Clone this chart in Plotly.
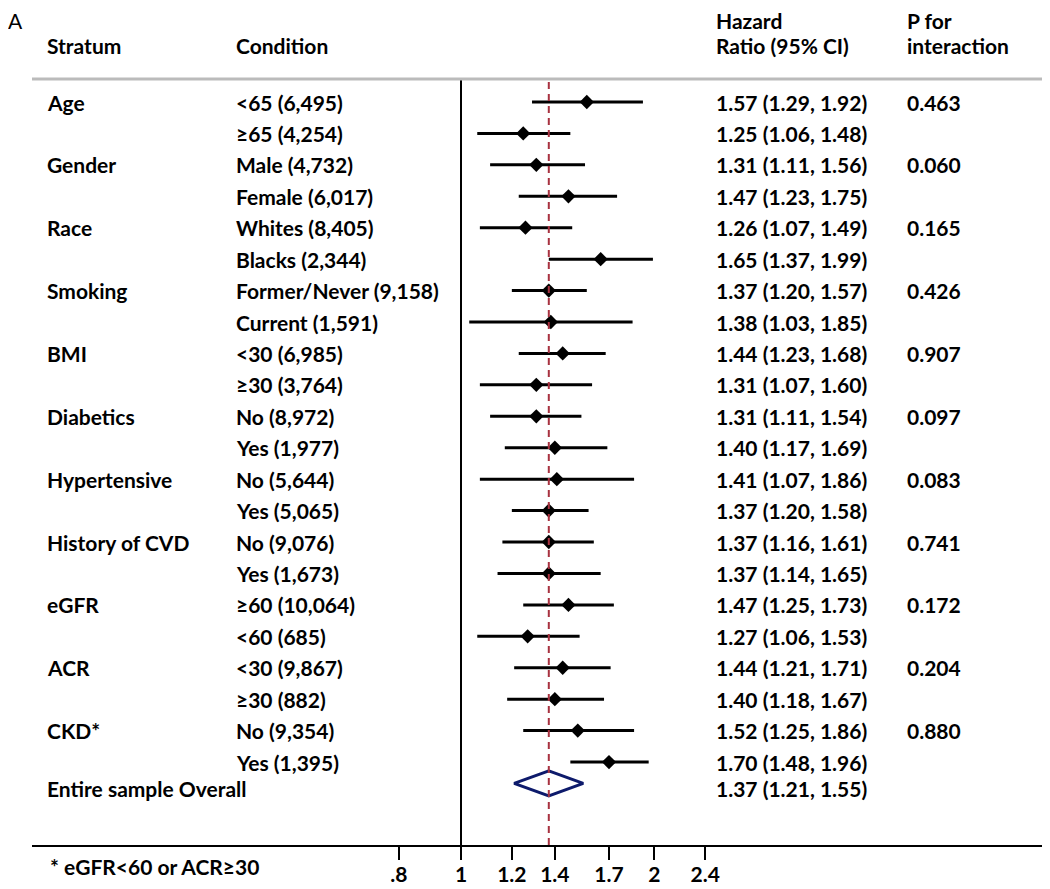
import math
import plotly.graph_objects as go

# ---------------- data ----------------
strata = ["Age", "", "Gender", "", "Race", "", "Smoking", "", "BMI", "", "Diabetics", "",
          "Hypertensive", "", "History of CVD", "", "eGFR", "", "ACR", "", "CKD*", ""]
conditions = ["<65 (6,495)", "≥65 (4,254)", "Male (4,732)", "Female (6,017)",
              "Whites (8,405)", "Blacks (2,344)", "Former/Never (9,158)", "Current (1,591)",
              "<30 (6,985)", "≥30 (3,764)", "No (8,972)", "Yes (1,977)",
              "No (5,644)", "Yes (5,065)", "No (9,076)", "Yes (1,673)",
              "≥60 (10,064)", "<60 (685)", "<30 (9,867)", "≥30 (882)",
              "No (9,354)", "Yes (1,395)"]
hr = [1.57, 1.25, 1.31, 1.47, 1.26, 1.65, 1.37, 1.38, 1.44, 1.31, 1.31, 1.40,
      1.41, 1.37, 1.37, 1.37, 1.47, 1.27, 1.44, 1.40, 1.52, 1.70]
lo = [1.29, 1.06, 1.11, 1.23, 1.07, 1.37, 1.20, 1.03, 1.23, 1.07, 1.11, 1.17,
      1.07, 1.20, 1.16, 1.14, 1.25, 1.06, 1.21, 1.18, 1.25, 1.48]
hi = [1.92, 1.48, 1.56, 1.75, 1.49, 1.99, 1.57, 1.85, 1.68, 1.60, 1.54, 1.69,
      1.86, 1.58, 1.61, 1.65, 1.73, 1.53, 1.71, 1.67, 1.86, 1.96]
p_int = ["0.463", "", "0.060", "", "0.165", "", "0.426", "", "0.907", "", "0.097", "",
         "0.083", "", "0.741", "", "0.172", "", "0.204", "", "0.880", ""]
overall_label = "Entire sample Overall"
overall = [1.37, 1.21, 1.55]   # estimate, lower, upper
tick_vals = [0.8, 1, 1.2, 1.4, 1.7, 2, 2.4]
tick_text = [".8", "1", "1.2", "1.4", "1.7", "2", "2.4"]

# ---------------- layout helpers ----------------
OFF = 8                      # page body margin
W, H = 1050 - OFF, 889 - OFF
# page-pixel geometry of the plot area
PL, PR, PT, PB = 32, 1050, 79, 845
L, T = PL - OFF, PT - OFF
R = W - (PR - OFF)
B = H - (PB - OFF)
FONT = "Lato"
FS = 21
PAD = 2

def px_x(p):
    return (p - PL - PAD) / (PR - PL)

def px_y(p):
    return 1 - (p - PT) / (PB - PT)

# x mapping in page pixels: 461 + 278.9*ln(v)
k = 278.9
xr = [(PL - 461) / k / math.log(10), (PR - 461) / k / math.log(10)]
n = len(hr)
row_pitch = 31.43
y0px = 102
yr = [(PB - y0px) / row_pitch, (PT - y0px) / row_pitch]
y_over_mark = 21.68
y_over_text = 21.83

fig = go.Figure()

# CI lines
cx, cy = [], []
for i in range(n):
    cx += [lo[i], hi[i], None]
    cy += [i, i, None]
fig.add_trace(go.Scatter(x=cx, y=cy, mode="lines", line=dict(color="black", width=3),
                         hoverinfo="skip", showlegend=False))
fig.add_trace(go.Scatter(x=hr, y=list(range(n)), mode="markers",
                         marker=dict(symbol="diamond", size=11, color="black"),
                         showlegend=False))
# overall diamond
dh = 0.40
fig.add_trace(go.Scatter(x=[overall[0], overall[1], overall[0], overall[2], overall[0]],
                         y=[y_over_mark - dh, y_over_mark, y_over_mark + dh, y_over_mark,
                            y_over_mark - dh],
                         mode="lines", line=dict(color="#0d1a6b", width=3),
                         showlegend=False))

# reference lines
fig.add_shape(type="line", xref="x", yref="paper", x0=1, x1=1, y0=0, y1=1,
              line=dict(color="black", width=2))
fig.add_shape(type="line", xref="x", yref="paper", x0=overall[0], x1=overall[0], y0=0, y1=1,
              line=dict(color="#a83240", width=2, dash="7px,5px"))
# header separator
fig.add_shape(type="line", xref="paper", yref="paper", x0=0, x1=1, y0=1, y1=1,
              line=dict(color="#bbbbbb", width=3))

ann = []
def text(xp, yv, s, yref="y", size=FS, bold=True):
    ann.append(dict(x=px_x(xp), xref="paper", y=yv, yref=yref,
                    text=(f"<b>{s}</b>" if bold else s),
                    showarrow=False, xanchor="left", yanchor="middle",
                    font=dict(family=FONT, size=size, color="black")))

X_STR, X_COND, X_HR, X_P = 47, 236, 716, 907

# headers
text(OFF, px_y(21), "A", yref="paper", bold=False)
text(X_STR, px_y(46), "Stratum", yref="paper")
text(X_COND, px_y(46), "Condition", yref="paper")
text(X_HR, px_y(21), "Hazard", yref="paper")
text(X_HR, px_y(46), "Ratio (95% CI)", yref="paper")
text(X_P, px_y(21), "P for", yref="paper")
text(X_P, px_y(46), "interaction", yref="paper")

for i in range(n):
    if strata[i]:
        text(X_STR, i, strata[i])
    text(X_COND, i, conditions[i])
    text(X_HR, i, f"{hr[i]:.2f} ({lo[i]:.2f}, {hi[i]:.2f})")
    if p_int[i]:
        text(X_P, i, p_int[i])
text(X_STR, y_over_text, overall_label)
text(X_HR, y_over_text, f"{overall[0]:.2f} ({overall[1]:.2f}, {overall[2]:.2f})")
text(50, px_y(866), "* eGFR&lt;60 or ACR≥30", yref="paper")

fig.update_layout(
    width=W, height=H, margin=dict(l=L, r=R, t=T, b=B, autoexpand=False),
    paper_bgcolor="white", plot_bgcolor="white",
    annotations=ann, showlegend=False,
    xaxis=dict(type="log", range=xr, tickvals=tick_vals,
               ticktext=[f"<b>{t}</b>" for t in tick_text],
               showgrid=False, zeroline=False, showline=True, linecolor="black", linewidth=2,
               ticks="outside", ticklen=13, tickwidth=2, tickcolor="black",
               tickfont=dict(family=FONT, size=FS, color="black"),
               ticklabelstandoff=-3, automargin=False),
    yaxis=dict(range=yr, showgrid=False, zeroline=False, showticklabels=False,
               showline=False, ticks="", automargin=False),
)

fig.write_html("out.html")
